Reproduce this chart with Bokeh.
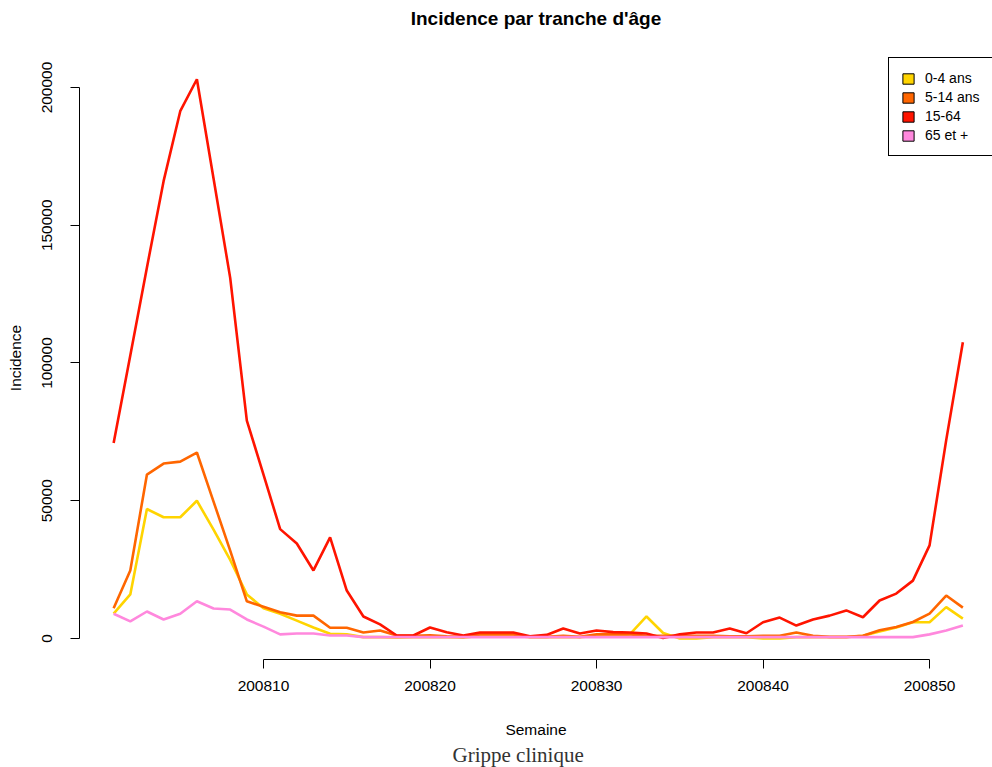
from bokeh.plotting import figure
from bokeh.models import Range1d, FixedTicker, Legend, LegendItem, Title
from bokeh.embed import file_html
from bokeh.resources import INLINE

weeks = list(range(200801, 200853))
tick_weeks = [200810, 200820, 200830, 200840, 200850]
y_ticks = [0, 50000, 100000, 150000, 200000]

age_0_4 = [9000, 16000, 47000, 44000, 44000, 50000, 39500, 28500, 16000, 11000,
           9000, 6500, 4000, 1700, 1500, 500, 500, 300, 500, 500,
           500, 300, 1000, 1000, 1000, 500, 500, 500, 500, 1000,
           1000, 1500, 8000, 2000, 0, 0, 500, 500, 500, 0,
           0, 500, 500, 500, 500, 1000, 2500, 4000, 5900, 5900,
           11400, 7200]
age_5_14 = [11000, 24700, 59500, 63500, 64200, 67500, 49700, 31900, 13500, 11500,
            9500, 8300, 8300, 3900, 3900, 2200, 2900, 1100, 1000, 1200,
            800, 600, 1500, 1500, 1500, 600, 600, 1000, 600, 1500,
            1500, 1500, 1000, 1000, 1000, 1000, 1000, 800, 800, 1000,
            1000, 2200, 1000, 600, 600, 1000, 3000, 4200, 6000, 9000,
            15600, 11200]
age_15_64 = [71000, 102700, 134700, 166000, 191400, 203000, 167000, 130900, 79100, 59500,
             39700, 34500, 24700, 36700, 17400, 8000, 5100, 1100, 1100, 4000,
             2300, 1100, 2200, 2200, 2200, 800, 1300, 3600, 1800, 2900,
             2300, 2200, 1800, 200, 1500, 2200, 2200, 3600, 1900, 5900,
             7600, 4700, 6900, 8300, 10200, 7700, 13800, 16300, 21000, 33800,
             72000, 107500]
age_65 = [9000, 6200, 9800, 6900, 9000, 13500, 10900, 10500, 6900, 4300,
          1500, 1800, 1800, 1100, 1100, 500, 500, 500, 500, 500,
          500, 500, 500, 500, 500, 500, 500, 500, 500, 500,
          500, 500, 500, 500, 500, 500, 500, 500, 500, 500,
          500, 500, 500, 500, 500, 500, 500, 500, 500, 1500,
          2900, 4700]

series_labels = ["0-4 ans", "5-14 ans", "15-64", "65 et +"]
series_colors = ["#FFD400", "#FF6600", "#FF1400", "#FF88DD"]
series_values = [age_0_4, age_5_14, age_15_64, age_65]

FONT = "Liberation Sans"
NAN = float("nan")

p = figure(frame_width=913, frame_height=603, output_backend="svg", toolbar_location=None,
           x_range=Range1d(200798.95, 200853.78), y_range=Range1d(-7623, 211252),
           min_border_left=79, min_border_right=0, min_border_top=56, min_border_bottom=108)
p.outline_line_color = None
p.xgrid.visible = False
p.ygrid.visible = False
p.background_fill_color = "white"
p.border_fill_color = "white"

for vals, col in zip(series_values, series_colors):
    p.line(weeks, vals, line_color=col, line_width=2.6)

# legend swatches (filled boxes with black border, as in the reference)
swatches = []
for col in series_colors:
    s = p.quad(left=[NAN], right=[NAN], top=[NAN], bottom=[NAN],
               fill_color=col, line_color="black", line_width=1)
    swatches.append(s)

legend = Legend(items=[LegendItem(label=l, renderers=[s]) for l, s in zip(series_labels, swatches)],
                location=(809, 503))
legend.border_line_color = "black"
legend.border_line_width = 1
legend.border_line_alpha = 1
legend.background_fill_alpha = 1
legend.padding = 12
legend.margin = 0
legend.spacing = 3
legend.glyph_width = 14
legend.glyph_height = 13
legend.label_height = 13
legend.label_width = 80
legend.label_standoff = 10
legend.label_text_font = FONT
legend.label_text_font_size = "14px"
legend.label_text_color = "black"
p.add_layout(legend)

# x axis
xa = p.xaxis[0]
xa.ticker = FixedTicker(ticks=tick_weeks)
xa.major_label_overrides = {t: str(t) for t in tick_weeks}
xa.bounds = (tick_weeks[0], tick_weeks[-1])
xa.minor_tick_line_color = None
xa.major_tick_in = 0
xa.major_tick_out = 9
xa.major_label_standoff = 12
xa.major_label_text_font = FONT
xa.major_label_text_font_size = "15.5px"
xa.major_label_text_color = "black"
xa.axis_line_color = "black"
xa.major_tick_line_color = "black"
xa.axis_label = "Semaine"
xa.axis_label_text_font = FONT
xa.axis_label_text_font_size = "15.5px"
xa.axis_label_text_font_style = "normal"
xa.axis_label_standoff = 27
xa.axis_label_text_color = "black"

# y axis
ya = p.yaxis[0]
ya.ticker = FixedTicker(ticks=y_ticks)
ya.major_label_overrides = {t: str(t) for t in y_ticks}
ya.bounds = (y_ticks[0], y_ticks[-1])
ya.minor_tick_line_color = None
ya.major_tick_in = 0
ya.major_tick_out = 9
ya.major_label_orientation = "vertical"
ya.major_label_standoff = 18
ya.major_label_text_font = FONT
ya.major_label_text_font_size = "15.5px"
ya.major_label_text_color = "black"
ya.axis_line_color = "black"
ya.major_tick_line_color = "black"
ya.axis_label = "Incidence"
ya.axis_label_text_font = FONT
ya.axis_label_text_font_size = "15.5px"
ya.axis_label_text_font_style = "normal"
ya.axis_label_standoff = 16
ya.axis_label_text_color = "black"

# title (second empty line lifts the text toward the top edge)
p.title.text = "Incidence par tranche d'âge\n "
p.title.align = "center"
p.title.text_font = FONT
p.title.text_font_size = "19px"
p.title.text_font_style = "bold"
p.title.text_color = "black"
p.title.text_line_height = 1.3
p.title.standoff = 0

caption = Title(text="Grippe clinique", align="left", text_font="Liberation Serif",
                text_font_size="21px", text_font_style="normal", text_color="#333333",
                standoff=0, offset=373)
p.add_layout(caption, "below")

open("out.html", "w").write(file_html(p, INLINE))
